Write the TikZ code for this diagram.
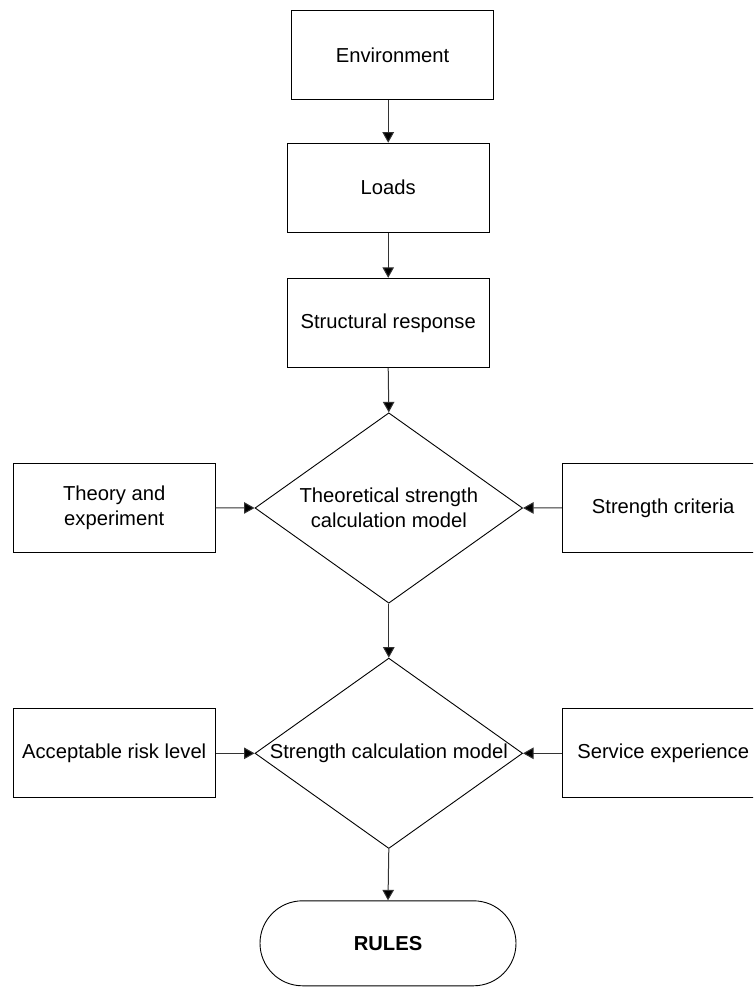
\documentclass[tikz,border=0pt]{standalone}
\usepackage{fontspec}
\setmainfont{Liberation Sans}
\usetikzlibrary{shapes.geometric,arrows.meta}

\tikzset{
  every node/.style={font=\fontsize{20.2}{24.5}\selectfont},
  box/.style={draw=black, line width=1pt, rectangle, inner sep=0pt,
              minimum width=201.7pt, minimum height=89pt, align=center},
  decision/.style={draw=black, line width=0.9pt, diamond, inner sep=0pt,
              aspect=1.405, minimum width=267.6pt, minimum height=190.4pt, align=center},
  terminal/.style={draw=black, line width=0.9pt, rectangle, rounded corners=42.5pt,
              inner sep=0pt, minimum width=256pt, minimum height=85pt},
  flow/.style={draw=black!80, line width=1pt,
              -{Triangle[length=10.5pt,width=11.5pt,fill=black]}}
}

\begin{document}
\begin{tikzpicture}[x=1pt,y=-1pt]
  \useasboundingbox (0,0) rectangle (753,987);
  \clip (0,0) rectangle (753,987);

  % main chain
  \node[box] (env)    at (392.5,55)    {Environment};
  \node[box] (loads)  at (388.2,187.7) {Loads};
  \node[box] (resp)   at (388.2,322.8) {Structural response};
  \node[decision] (theomodel) at (388.8,508) {Theoretical strength\\calculation model};
  \node[decision] (calcmodel) at (388.8,753.3) {Strength calculation model};
  \node[terminal] (rules) at (388,943.3) {\bfseries RULES};

  % side inputs
  \node[box] (theory)  at (114.2,507.8) {Theory and\\experiment};
  \node[box] (crit)    at (663.2,507.8) {Strength criteria};
  \node[box] (risk)    at (114.2,753.3) {Acceptable risk level};
  \node[box] (service) at (663.2,753.3) {Service experience};

  % connectors
  \draw[flow] (env.south -| loads.north) -- (loads.north);
  \draw[flow] (loads.south) -- (resp.north);
  \draw[flow] (resp.south) -- (theomodel.north);
  \draw[flow] (theomodel.south) -- (calcmodel.north);
  \draw[flow] (calcmodel.south) -- (rules.north);

  \draw[flow] (theory.east) -- (theomodel.west);
  \draw[flow] (crit.west) -- (theomodel.east);
  \draw[flow] (risk.east) -- (calcmodel.west);
  \draw[flow] (service.west) -- (calcmodel.east);
\end{tikzpicture}
\end{document}
